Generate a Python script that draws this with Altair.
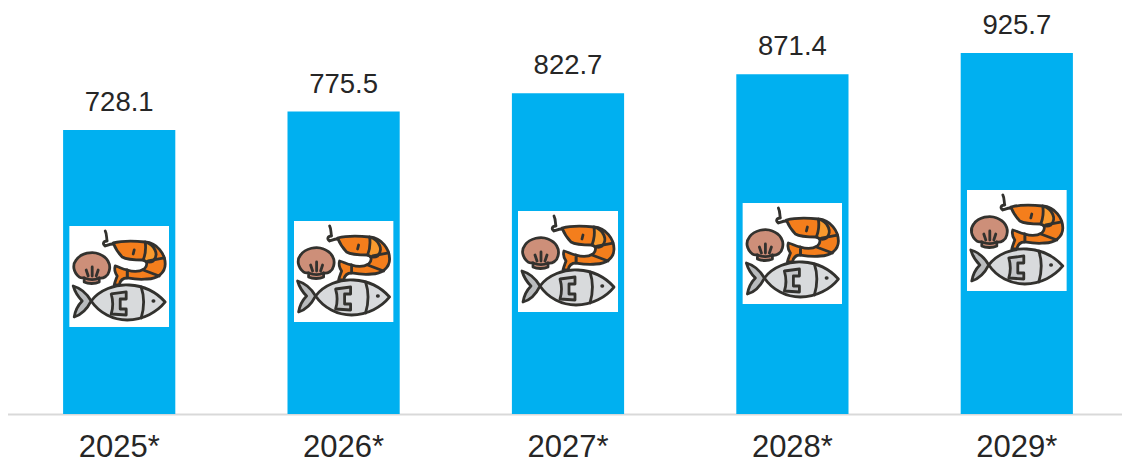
import base64
import altair as alt
import pandas as pd

years = ["2025*", "2026*", "2027*", "2028*", "2029*"]
values = [728.1, 775.5, 822.7, 871.4, 925.7]
labels = ["728.1", "775.5", "822.7", "871.4", "925.7"]
icon_levels = [352.6, 365.4, 391.0, 411.5, 444.9]

ICON_SVG = """<svg xmlns="http://www.w3.org/2000/svg" viewBox="0 0 100 101" width="100" height="101">
<defs><filter id="b" x="-5%" y="-5%" width="110%" height="110%"><feGaussianBlur stdDeviation="0.5"/></filter></defs>
<rect width="100" height="101" fill="#ffffff"/>
<g filter="url(#b)" stroke="#33302e" stroke-width="2.8" stroke-linejoin="round" stroke-linecap="round">
<path d="M36 5 C38 9 37 12 38 15 C34 15 33 18 36 20 C39 19 41 18 44 18" fill="none"/>
<path d="M44 17 C52 15 66 15 76 16 C88 17 96 28 96 38 C96 47 88 53 78 53 C70 54 64 53 58 52 L58 44 C64 46 70 46 75 43 C79 39 78 35 74 34 C66 34 58 34 53 31 C49 27 46 22 44 17 Z" fill="#f47e1e"/>
<path d="M76 16 C86 19 90 29 84 35 C81 37 77 36 74 34 C76 29 77 23 76 16 Z" fill="#f89a2d"/>
<path d="M79 35 L95 32 M74 44 L90 50" fill="none"/>
<path d="M46 40 C50 41 53 43 58 44 L58 52 C54 52 51 54 50 59 L45 59 C46 55 47 53 48 50 C46 47 45 43 46 40 Z" fill="#f47e1e"/>
<path d="M64 28 L65 24" fill="none"/>
<path d="M10 51 C4 46 3 39 7 34 C12 27 23 25 30 28 C38 31 42 38 40 45 C39 50 34 53 30 52 L30 56 C26 58 19 58 15 56 L15 52 C13 52 11 52 10 51 Z" fill="#cd8f79"/>
<path d="M15 52 C20 54 26 54 30 52 M17 44 L19 50 M23 41 L23 50 M29 44 L27 50" fill="none"/>
<path d="M22 75 C30 64 46 58 60 59 C76 60 88 67 96 76 C88 86 74 94 58 94 C44 94 30 87 22 75 Z" fill="#d8dadc"/>
<path d="M22 75 C18 68 11 62 4 60 C6 67 9 71 13 75 C9 79 6 85 5 91 C12 89 18 83 22 75 Z" fill="#b9bbbd"/>
<path d="M42 68 L57 66 L57 73 L51 73 L51 83 L57 83 L57 89 L42 88 C44 82 44 75 42 68 Z" fill="#c4c6c8"/>
<path d="M72 61 C75 70 75 82 72 92" fill="none"/>
<path d="M84 75 L84.5 75" fill="none" stroke-width="3.5"/>
</g></svg>"""
ICON = "data:image/svg+xml;base64," + base64.b64encode(ICON_SVG.encode()).decode()

df = pd.DataFrame({"year": years, "value": values, "label": labels, "icon": icon_levels})

FONT = "Liberation Sans"
x = alt.X(
    "year:N",
    sort=years,
    title=None,
    scale=alt.Scale(range=[-1, 1121], paddingInner=0.5, paddingOuter=0.25),
    axis=alt.Axis(
        labelAngle=0, ticks=False, labelFont=FONT, labelFontSize=31, labelColor="#262626",
        labelPadding=18, domainColor="#d9d9d9", domainWidth=2, grid=False,
    ),
)
y = alt.Y("value:Q", title=None, scale=alt.Scale(domain=[0, 1041], nice=False), axis=None)

bars = alt.Chart(df).mark_bar(color="#00b0f0").encode(x=x, y=y)
texts = alt.Chart(df).mark_text(
    baseline="bottom", dy=-13, font=FONT, fontSize=27.5, color="#262626"
).encode(x=x, y=y, text="label:N")
icons = alt.Chart(df).mark_image(url=ICON, width=100, height=101, aspect=False).encode(
    x=x, y=alt.Y("icon:Q", title=None, scale=alt.Scale(domain=[0, 1041], nice=False), axis=None)
)

chart = (bars + icons + texts).properties(
    width=1114,
    height=406,
    padding={"left": 0, "top": 0, "right": 0, "bottom": 50},
    autosize="none",
    background="#ffffff",
).configure_view(stroke=None)

chart.save("out.html", embed_options={"renderer": "svg", "actions": False})
